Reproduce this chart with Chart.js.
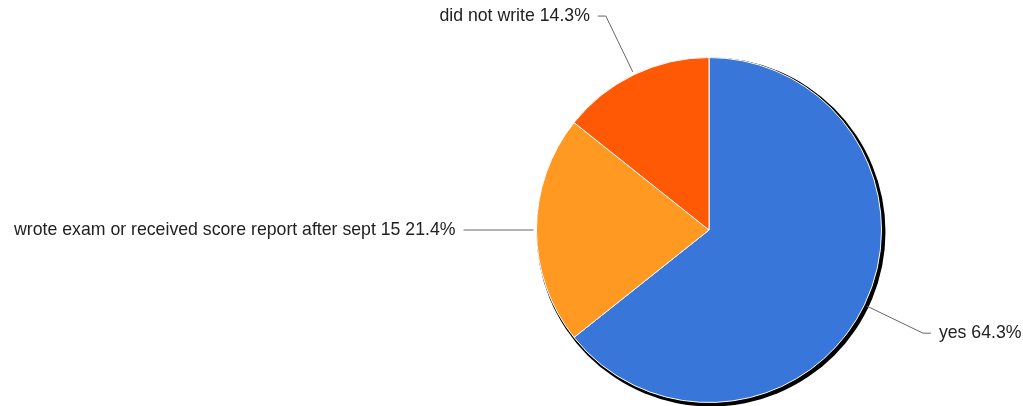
<!DOCTYPE html>
<html>
<head>
<meta charset="utf-8">
<script src="https://cdn.jsdelivr.net/npm/chart.js@4"></script>
<style>
  html, body { margin: 0; padding: 0; background: #fff; }
  #wrap { width: 1023px; height: 406px; position: relative; }
</style>
</head>
<body>
<div id="wrap"><canvas id="pie"></canvas></div>
<script>
// slice data, clockwise from 12 o'clock
const labels = ['yes', 'wrote exam or received score report after sept 15', 'did not write'];
const values = [64.3, 21.4, 14.3];
const colors = ['#3976d9', '#ff9922', '#ff5906'];

const FONT = '17.7px "Liberation Sans", Arial, sans-serif';

// black rim behind the pie, offset a little down and right
const rimShadow = {
    id: 'rimShadow',
    beforeDatasetsDraw(chart) {
        const arc = chart.getDatasetMeta(0).data[0];
        if (!arc) return;
        const ctx = chart.ctx;
        ctx.save();
        ctx.fillStyle = '#000';
        ctx.beginPath();
        ctx.arc(arc.x + 2, arc.y + 2, arc.outerRadius + 2, 0, Math.PI * 2);
        ctx.fill();
        ctx.restore();
    }
};

// labels with elbow leader lines outside the pie
const outsideLabels = {
    id: 'outsideLabels',
    afterDatasetsDraw(chart) {
        const meta = chart.getDatasetMeta(0);
        const total = values.reduce((a, b) => a + b, 0);
        const ctx = chart.ctx;
        ctx.save();
        ctx.font = FONT;
        ctx.textBaseline = 'middle';
        meta.data.forEach((arc, i) => {
            const mid = (arc.startAngle + arc.endAngle) / 2;
            const cos = Math.cos(mid), sin = Math.sin(mid);
            const r = arc.outerRadius;
            const x0 = arc.x + cos * (r + 3), y0 = arc.y + sin * (r + 3);
            const x1 = arc.x + cos * (r + 65), y1 = arc.y + sin * (r + 65);
            const right = cos > 0.001;
            const dir = right ? 1 : -1;
            const x2 = x1 + dir * 8;
            ctx.strokeStyle = '#666';
            ctx.lineWidth = 1;
            ctx.beginPath();
            ctx.moveTo(x0, y0);
            ctx.lineTo(x1, y1);
            ctx.lineTo(x2, y1);
            ctx.stroke();
            const pct = (values[i] / total * 100).toFixed(1) + '%';
            ctx.fillStyle = '#222';
            ctx.textAlign = right ? 'left' : 'right';
            ctx.fillText(labels[i] + ' ' + pct, x2 + dir * 8, y1);
        });
        ctx.restore();
    }
};

new Chart(document.getElementById('pie'), {
    type: 'pie',
    data: {
        labels: labels,
        datasets: [{
            data: values,
            backgroundColor: colors,
            borderColor: '#fff',
            borderWidth: 1
        }]
    },
    options: {
        responsive: true,
        maintainAspectRatio: false,
        animation: false,
        layout: { padding: { left: 536, right: 141, top: 57, bottom: 3 } },
        plugins: {
            legend: { display: false },
            tooltip: { enabled: false }
        }
    },
    plugins: [rimShadow, outsideLabels]
});
</script>
</body>
</html>
